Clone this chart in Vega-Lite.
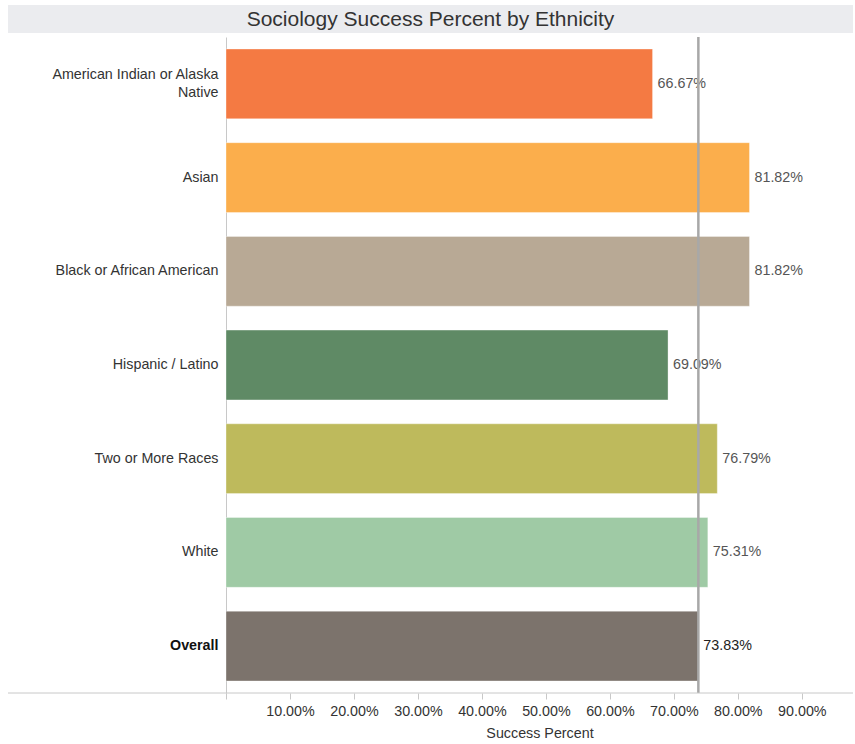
{
  "$schema": "https://vega.github.io/schema/vega-lite/v6.json",
  "padding": {"left": 7, "top": 5, "right": 3, "bottom": 5},
  "background": "white",
  "spacing": 2,
  "config": {
    "font": "Liberation Sans",
    "view": {"stroke": null}
  },
  "vconcat": [
    {
      "width": 845,
      "height": 28,
      "view": {"fill": "#ebecef", "stroke": null},
      "data": {"values": [{"title": "Sociology Success Percent by Ethnicity"}]},
      "mark": {"type": "text", "font": "Liberation Sans", "fontSize": 21, "color": "#333333", "baseline": "middle", "align": "center", "dy": 1},
      "encoding": {"text": {"field": "title", "type": "nominal"}}
    },
    {
      "width": 845,
      "height": 656,
      "data": {
        "values": [
          {"ethnicity": "American Indian or Alaska Native", "pct": 0.6667},
          {"ethnicity": "Asian", "pct": 0.8182},
          {"ethnicity": "Black or African American", "pct": 0.8182},
          {"ethnicity": "Hispanic / Latino", "pct": 0.6909},
          {"ethnicity": "Two or More Races", "pct": 0.7679},
          {"ethnicity": "White", "pct": 0.7531},
          {"ethnicity": "Overall", "pct": 0.7383}
        ]
      },
      "encoding": {
        "y": {
          "field": "ethnicity",
          "type": "nominal",
          "sort": null,
          "scale": {"paddingInner": 0.255, "paddingOuter": 0.128},
          "axis": {
            "title": null,
            "offset": -218,
            "ticks": false,
            "domainColor": "#c8c8c8",
            "domainWidth": 1,
            "labelFontSize": 14.3,
            "labelPadding": 8,
            "labelLimit": 300,
            "labelLineHeight": 18,
            "labelOffset": {"condition": {"test": "datum.value == 'American Indian or Alaska Native'", "value": -9}, "value": 0},
            "labelFontWeight": {"condition": {"test": "datum.value == 'Overall'", "value": "bold"}, "value": "normal"},
            "labelColor": {"condition": {"test": "datum.value == 'Overall'", "value": "#111111"}, "value": "#333333"},
            "labelExpr": "datum.value == 'American Indian or Alaska Native' ? ['American Indian or Alaska', 'Native'] : datum.label"
          }
        },
        "x": {
          "field": "pct",
          "type": "quantitative",
          "scale": {"domain": [0, 0.98], "rangeMin": 218, "nice": false, "zero": true},
          "axis": {
            "title": "Success Percent",
            "titleFontSize": 14.3,
            "titleFontWeight": "normal",
            "titleColor": "#333333",
            "titlePadding": 8,
            "format": ".2%",
            "values": [0, 0.1, 0.2, 0.3, 0.4, 0.5, 0.6, 0.7, 0.8, 0.9],
            "labelExpr": "datum.value == 0 ? '' : datum.label",
            "labelFontSize": 14.3,
            "labelColor": "#333333",
            "labelPadding": 5,
            "grid": false,
            "domain": false,
            "tickColor": "#c8c8c8",
            "tickSize": 6
          }
        }
      },
      "layer": [
        {
          "mark": {"type": "bar", "strokeWidth": 1, "strokeOpacity": 0.35, "stroke": "white"},
          "encoding": {
            "color": {
              "field": "ethnicity",
              "type": "nominal",
              "legend": null,
              "scale": {
                "domain": ["American Indian or Alaska Native", "Asian", "Black or African American", "Hispanic / Latino", "Two or More Races", "White", "Overall"],
                "range": ["#f47a43", "#fbae4c", "#b8a995", "#5f8a65", "#beba5c", "#9fcaa5", "#7c736c"]
              }
            }
          }
        },
        {
          "mark": {"type": "text", "align": "left", "baseline": "middle", "dx": 5, "fontSize": 14.3, "font": "Liberation Sans"},
          "encoding": {
            "text": {"field": "pct", "type": "quantitative", "format": ".2%"},
            "color": {"condition": {"test": "datum.ethnicity == 'Overall'", "value": "#222222"}, "value": "#555555"},
            "fontWeight": {"condition": {"test": "datum.ethnicity == 'Overall'", "value": "bold"}, "value": "normal"}
          }
        },
        {
          "data": {"values": [{"avg": 0.7383}]},
          "mark": {"type": "rule", "color": "#a8a8a8", "strokeWidth": 2.5},
          "encoding": {"x": {"field": "avg", "type": "quantitative"}, "y": null}
        },
        {
          "data": {"values": [{}]},
          "mark": {"type": "rule", "color": "#c8c8c8", "strokeWidth": 1},
          "encoding": {"y": {"value": "height"}, "x": null}
        }
      ]
    }
  ]
}
